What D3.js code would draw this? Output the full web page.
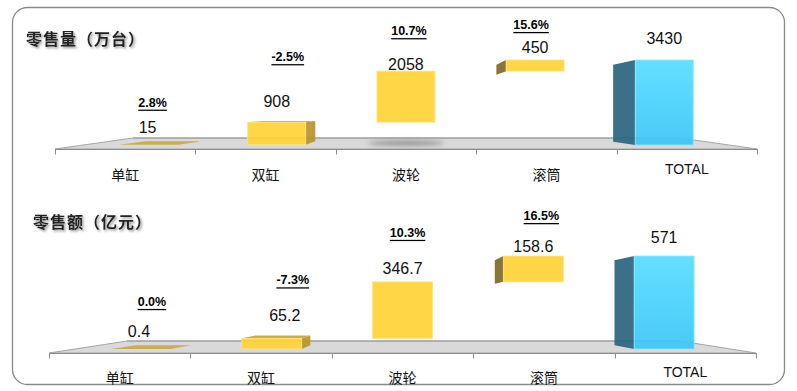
<!DOCTYPE html>
<html><head><meta charset="utf-8">
<script src="https://cdn.jsdelivr.net/npm/d3@7"></script>
<style>
html,body{margin:0;padding:0;background:#fff;}
svg{display:block;}
text{text-spacing-trim:space-all;}
</style></head>
<body>
<script>
// ---- data ----
const categories = ["单缸", "双缸", "波轮", "滚筒", "TOTAL"];
const volumeTitle = "零售量（万台）";
const volumeValues = [15, 908, 2058, 450, 3430];
const volumeGrowth = ["2.8%", "-2.5%", "10.7%", "15.6%", null];
const amountTitle = "零售额（亿元）";
const amountValues = [0.4, 65.2, 346.7, 158.6, 571];
const amountGrowth = ["0.0%", "-7.3%", "10.3%", "16.5%", null];

const W = 797, H = 391;
const svg = d3.select("body").append("svg").attr("width", W).attr("height", H);
const defs = svg.append("defs");
const f = defs.append("filter").attr("id", "tshadow").attr("x", "-10%").attr("y", "-30%").attr("width", "130%").attr("height", "160%");
f.append("feDropShadow").attr("dx", 1.5).attr("dy", 1.5).attr("stdDeviation", 1.2).attr("flood-color", "#777").attr("flood-opacity", 0.8);
const blur = defs.append("filter").attr("id", "blur").attr("x", "-30%").attr("y", "-100%").attr("width", "160%").attr("height", "300%");
blur.append("feGaussianBlur").attr("stdDeviation", 2.5);
const cg = defs.append("linearGradient").attr("id", "cyan").attr("x1", 0).attr("y1", 0).attr("x2", 0).attr("y2", 1);
cg.append("stop").attr("offset", "0%").attr("stop-color", "#58deff");
cg.append("stop").attr("offset", "100%").attr("stop-color", "#3cc6f7");

svg.append("rect").attr("x", 12.5).attr("y", 7.5).attr("width", 772).attr("height", 377)
  .attr("rx", 15).attr("fill", "#fff").attr("stroke", "#8a8a8a").attr("stroke-width", 1.3);

const panels = [
  { title: volumeTitle, values: volumeValues, growth: volumeGrowth,
    titleX: 26, titleY: 38, xr: [55, 757], axisY: 149, baseY: 145, topY: 60,
    backY: 138, backX: [133, 680], vp: { x: 405, y: 110 }, depth: 0.096, shrink: 0.92, barW: 58,
    labelY: 173.5, valDx: [0, 0, 0, 0, 0], valDy: [-17, -21, -7, -12, -22],
    pctDx: [5, 11, 3, -4], pctDy: [-25, -44, -33, -23], shadow: 2 },
  { title: amountTitle, values: amountValues, growth: amountGrowth,
    titleX: 33, titleY: 221, xr: [49, 756], axisY: 353, baseY: 349, topY: 256,
    backY: 341, backX: [127, 680], vp: { x: 403, y: 305 }, depth: 0.085, shrink: 0.925, barW: 60,
    labelY: 377, valDx: [-2, 13, 0, 0, 0], valDy: [-17, -23, -13, -10, -19],
    pctDx: [11, 21, 5, 8], pctDy: [-30, -35, -36, -30], shadow: -1 }
];

panels.forEach(p => {
  const g = svg.append("g");
  const n = categories.length;
  const x = d3.scaleBand().domain(categories).range(p.xr).padding(0);
  const total = p.values[n - 1];
  const y = d3.scaleLinear().domain([0, total]).range([p.baseY, p.topY]);

  // waterfall bases
  let cum = 0;
  const bars = categories.map((c, i) => {
    let b0, b1;
    if (i === n - 1) { b0 = 0; b1 = total; }
    else { b0 = cum; b1 = cum + p.values[i]; cum = b1; }
    return { c, i, b0, b1, v: p.values[i], g: p.growth[i] };
  });

  // floor
  g.append("path").attr("d", `M${p.xr[0]},${p.axisY}L${p.backX[0]},${p.backY}L${p.backX[1]},${p.backY}L${p.xr[1]},${p.axisY}Z`)
    .attr("fill", "#d9d9d9").attr("stroke", "#a6a6a6").attr("stroke-width", 1);
  g.append("line").attr("x1", p.backX[0]).attr("x2", p.backX[1]).attr("y1", p.backY).attr("y2", p.backY)
    .attr("stroke", "#9a9a9a").attr("stroke-width", 1.2);

  // axis
  const edges = categories.map(c => x(c)).concat([p.xr[1]]);
  g.append("line").attr("x1", p.xr[0]).attr("x2", p.xr[1]).attr("y1", p.axisY + 0.5).attr("y2", p.axisY + 0.5)
    .attr("stroke", "#8c8c8c").attr("stroke-width", 1.2);
  g.selectAll(".tick").data(edges).join("line")
    .attr("x1", d => Math.round(d) + 0.5).attr("x2", d => Math.round(d) + 0.5)
    .attr("y1", p.axisY).attr("y2", p.axisY + 5.5).attr("stroke", "#8c8c8c").attr("stroke-width", 1);

  // floor shadow
  if (p.shadow >= 0) {
    const cx = p.vp.x + (x(categories[p.shadow]) + x.bandwidth() / 2 - p.vp.x) * p.shrink;
    g.append("ellipse").attr("cx", cx).attr("cy", p.baseY - 2).attr("rx", 38).attr("ry", 2.5)
      .attr("fill", "#8f8f8f").attr("filter", "url(#blur)");
  }

  const back = pt => [pt[0] + (p.vp.x - pt[0]) * p.depth, pt[1] + (p.vp.y - pt[1]) * p.depth];
  const poly = pts => "M" + pts.map(q => q.join(",")).join("L") + "Z";

  bars.forEach(b => {
    const isTotal = b.i === n - 1;
    const cx = p.vp.x + (x(b.c) + x.bandwidth() / 2 - p.vp.x) * p.shrink;
    const xl = cx - p.barW / 2, xr = cx + p.barW / 2;
    const yt = y(b.b1), yb = y(b.b0);
    const TL = [xl, yt], TR = [xr, yt], BL = [xl, yb], BR = [xr, yb];
    const tl = back(TL), tr = back(TR), bl = back(BL), br = back(BR);
    const col = isTotal
      ? { front: "url(#cyan)", top: "#4fcff2", sideL: "#2e6680", sideR: "#2e6680", op: 0.93 }
      : { front: "#ffd337", top: "#c9a23c", sideL: "#7e6a27", sideR: "#b8952a", op: 0.92 };
    const bg = g.append("g").attr("opacity", col.op);
    if (yt > p.vp.y) bg.append("path").attr("d", poly([TL, TR, tr, tl])).attr("fill", col.top).attr("opacity", b.i === 0 ? 0.9 : 1);
    if (xl > p.vp.x) bg.append("path").attr("d", poly([TL, tl, bl, BL])).attr("fill", col.sideL);
    if (xr < p.vp.x) bg.append("path").attr("d", poly([TR, tr, br, BR])).attr("fill", col.sideR);
    if (yb - yt > 0.5) bg.append("rect").attr("x", xl).attr("y", yt).attr("width", xr - xl).attr("height", yb - yt)
      .attr("fill", col.front).attr("stroke", isTotal ? "#8ee9ff" : "#ffe27a").attr("stroke-width", 0.8);

    // value label
    const vx = cx + p.valDx[b.i], vy = yt + p.valDy[b.i];
    g.append("text").attr("x", vx).attr("y", vy).attr("text-anchor", "middle").attr("dominant-baseline", "central")
      .attr("font-family", "Liberation Sans, Arial, sans-serif").attr("font-size", 16).attr("fill", "#111").text(b.v);
    if (b.g) {
      g.append("text").attr("x", cx + p.pctDx[b.i]).attr("y", vy + p.pctDy[b.i]).attr("text-anchor", "middle")
        .attr("dominant-baseline", "central").attr("font-family", "Liberation Sans, Arial, sans-serif")
        .attr("font-size", 12.5).attr("font-weight", "bold").attr("text-decoration", "underline").attr("fill", "#000").text(b.g);
    }
  });

  // category labels
  g.selectAll(".cat").data(categories).join("text")
    .attr("x", d => x(d) + x.bandwidth() / 2)
    .attr("y", d => /^[A-Za-z]/.test(d) ? p.labelY - 5 : p.labelY)
    .attr("text-anchor", "middle").attr("dominant-baseline", "central")
    .attr("font-family", d => /^[A-Za-z]/.test(d) ? "Liberation Sans, Arial, sans-serif" : "Noto Sans CJK SC, sans-serif")
    .attr("font-size", 14).attr("fill", "#111").text(d => d);

  // title
  g.append("text").attr("x", p.titleX).attr("y", p.titleY).attr("dominant-baseline", "central")
    .attr("font-family", "Noto Sans CJK SC, sans-serif").attr("font-size", 16).attr("font-weight", "bold")
    .attr("letter-spacing", 1).attr("fill", "#222").attr("filter", "url(#tshadow)").text(p.title);
});
</script>
</body></html>
